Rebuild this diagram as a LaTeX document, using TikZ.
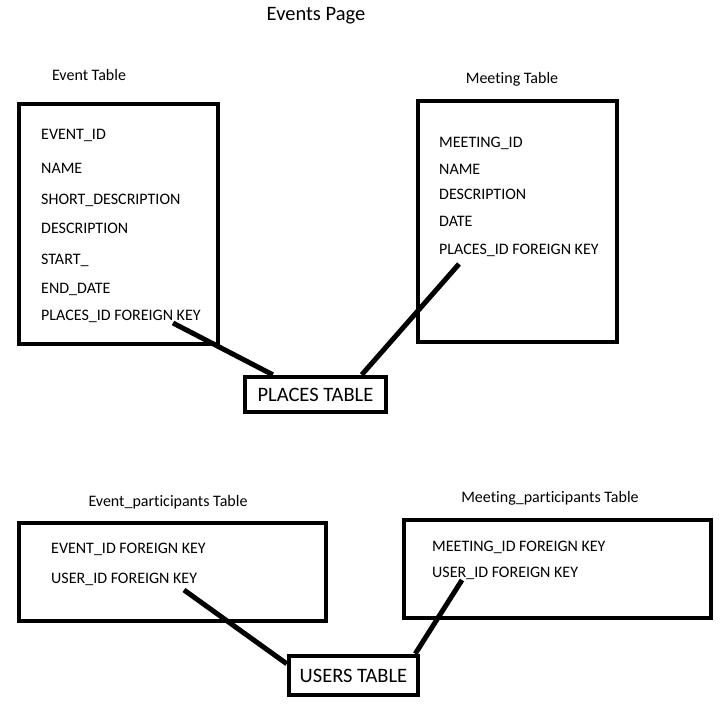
\documentclass[tikz,border=0pt]{standalone}
\usepackage{fontspec}
\setmainfont{Carlito}[Ligatures=NoCommon]
\usetikzlibrary{calc}
\begin{document}
\begin{tikzpicture}[x=1bp,y=-1bp,
  tbl/.style={draw=black,line width=4.5bp,rectangle,inner sep=0pt},
  small/.style={draw=black,line width=4.5bp,rectangle,inner sep=0pt,font=\fontsize{20.5bp}{24bp}\selectfont},
  fld/.style={anchor=base west,inner sep=0pt,font=\fontsize{16bp}{19bp}\selectfont},
  ttl/.style={anchor=base,inner sep=0pt,font=\fontsize{16bp}{19bp}\selectfont},
  link/.style={line width=5bp,black}]
\fill[white] (0,0) rectangle (727,716);
\useasboundingbox (0,0) rectangle (727,716);

\node[anchor=base,inner sep=0pt,font=\fontsize{20.5bp}{24bp}\selectfont] (title) at (316,21) {Events Page};

% Event table
\node[ttl] (evtcap) at (89,81) {Event Table};
\node[tbl,minimum width=199bp,minimum height=240bp] (evt) at (118.5,224) {};
\node[fld] (e1) at (41,140) {EVENT\_ID};
\node[fld] (e2) at (41,173) {NAME};
\node[fld] (e3) at (41,204) {SHORT\_DESCRIPTION};
\node[fld] (e4) at (41,233) {DESCRIPTION};
\node[fld] (e5) at (41,264) {START\_};
\node[fld] (e6) at (41,293) {END\_DATE};
\node[fld] (e7) at (41,320) {PLACES\_ID FOREIGN KEY};

% Meeting table
\node[ttl] (mtgcap) at (512,84) {Meeting Table};
\node[tbl,minimum width=199bp,minimum height=241bp] (mtg) at (517.5,221.5) {};
\node[fld] (m1) at (439,147) {MEETING\_ID};
\node[fld] (m2) at (439,174) {NAME};
\node[fld] (m3) at (439,199) {DESCRIPTION};
\node[fld] (m4) at (439,226) {DATE};
\node[fld] (m5) at (439,254) {PLACES\_ID FOREIGN KEY};

% Places
\node[small,minimum width=141bp,minimum height=35bp] (places) at (315.5,394.5) {PLACES TABLE};

% Event participants
\node[ttl] (evpcap) at (168,506) {Event\_participants Table};
\node[tbl,minimum width=307bp,minimum height=98bp] (evp) at (172.5,572) {};
\node[fld] (p1) at (51,553) {EVENT\_ID FOREIGN KEY};
\node[fld] (p2) at (51,583) {USER\_ID FOREIGN KEY};

% Meeting participants
\node[ttl] (mtpcap) at (550,502) {Meeting\_participants Table};
\node[tbl,minimum width=307bp,minimum height=98bp] (mtp) at (557.5,569) {};
\node[fld] (q1) at (432,551) {MEETING\_ID FOREIGN KEY};
\node[fld] (q2) at (432,577) {USER\_ID FOREIGN KEY};

% Users
\node[small,minimum width=129bp,minimum height=39bp] (users) at (353.5,675.5) {USERS TABLE};

% connector free ends
\coordinate (evfk) at (173,323);
\coordinate (mtfk) at (459,264);
\coordinate (epfk) at (184,590);
\coordinate (mpfk) at (462,580);

\draw[link] (evfk) -- ([xshift=30bp]places.north west);
\draw[link] (mtfk) -- ([xshift=119bp]places.north west);
\draw[link] (epfk) -- ([yshift=-10bp]users.north west);
\draw[link] (mpfk) -- ([xshift=-5bp]users.north east);
\end{tikzpicture}
\end{document}
